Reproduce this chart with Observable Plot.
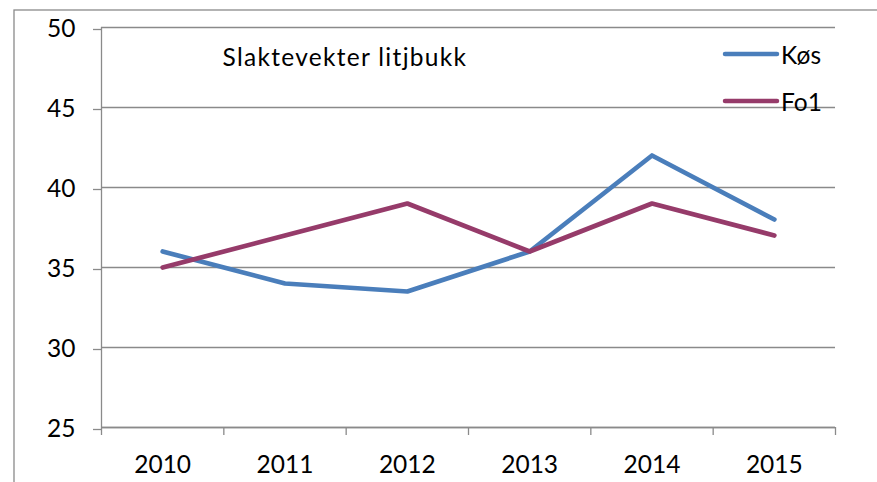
<!DOCTYPE html>
<html>
<head>
<meta charset="utf-8">
<script src="https://cdn.jsdelivr.net/npm/d3@7"></script>
<script src="https://cdn.jsdelivr.net/npm/@observablehq/plot@0.6"></script>
<style>
  html, body { margin: 0; padding: 0; background: #fff; }
  #chart { width: 877px; height: 482px; overflow: hidden; }
</style>
</head>
<body>
<div id="chart"></div>
<script>
const years = [2010, 2011, 2012, 2013, 2014, 2015];
const kosValues = [36, 34, 33.5, 36, 42, 38];
const fo1Values = [35, 37, 39, 36, 39, 37];
const seriesNames = ["Køs", "Fo1"];
const seriesColors = ["#4A7EBB", "#963B6A"];
const yTicks = [25, 30, 35, 40, 45, 50];
const title = "Slaktevekter litjbukk";

const data = [
  ...years.map((y, i) => ({year: y, value: kosValues[i], series: seriesNames[0]})),
  ...years.map((y, i) => ({year: y, value: fo1Values[i], series: seriesNames[1]}))
];
const boundaries = d3.range(years[0] - 0.5, years[years.length - 1] + 1, 1);

const font = "Lato, 'Open Sans', sans-serif";
const fs = 24.5;
const grid = "#8a8a8a";

const plot = Plot.plot({
  width: 877,
  height: 482,
  marginLeft: 101,
  marginRight: 42,
  marginTop: 27,
  marginBottom: 55,
  style: {fontFamily: font, fontSize: fs + "px", color: "#000", background: "#fff"},
  x: {type: "linear", domain: [years[0] - 0.5, years[years.length - 1] + 0.5]},
  y: {domain: [25, 50]},
  color: {domain: seriesNames, range: seriesColors},
  marks: [
    Plot.gridY(yTicks, {stroke: grid, strokeOpacity: 1, strokeWidth: 1.3}),
    Plot.axisY(yTicks, {tickSize: 8, tickPadding: 18, stroke: grid, strokeWidth: 1.3, label: null, fontSize: fs, fill: "#000", dy: 2}),
    Plot.axisX(boundaries, {tickSize: 8, stroke: grid, strokeWidth: 1.3, text: null, label: null}),
    Plot.axisX(years, {tickSize: 0, tickPadding: 28, tickFormat: d => String(d), label: null, fontSize: fs, fill: "#000"}),
    Plot.ruleY([25], {stroke: grid, strokeWidth: 1.3}),
    Plot.ruleX([years[0] - 0.5], {stroke: grid, strokeWidth: 1.3}),
    Plot.line(data, {x: "year", y: "value", z: "series", stroke: "series", strokeWidth: 4.7, strokeLinejoin: "round", strokeLinecap: "round"}),
    Plot.text([title], {frameAnchor: "top-left", dx: 121, dy: 21, text: d => d, fontSize: fs, fill: "#000", textAnchor: "start", lineAnchor: "top"})
  ]
});

document.getElementById("chart").appendChild(plot);

// outer chart-area border and legend
const svg = d3.select(plot);
svg.insert("rect", ":first-child")
  .attr("x", 14).attr("y", 10).attr("width", 900).attr("height", 500)
  .attr("fill", "none").attr("stroke", grid).attr("stroke-width", 1.3);

// widen the title slightly to match the reference's wider face
svg.selectAll("text").filter(function() { return this.textContent === title; })
  .attr("letter-spacing", "1.3px");

const legend = svg.append("g").attr("font-family", font).attr("font-size", fs).attr("text-anchor", "start");
seriesNames.forEach((name, i) => {
  const yy = 54 + i * 47;
  legend.append("line")
    .attr("x1", 725).attr("x2", 777).attr("y1", yy).attr("y2", yy)
    .attr("stroke", seriesColors[i]).attr("stroke-width", 4.5).attr("stroke-linecap", "round");
  legend.append("text")
    .attr("x", 781).attr("y", yy + 1).attr("dy", "0.35em").attr("fill", "#000")
    .attr("text-anchor", "start")
    .text(name);
});
</script>
</body>
</html>
